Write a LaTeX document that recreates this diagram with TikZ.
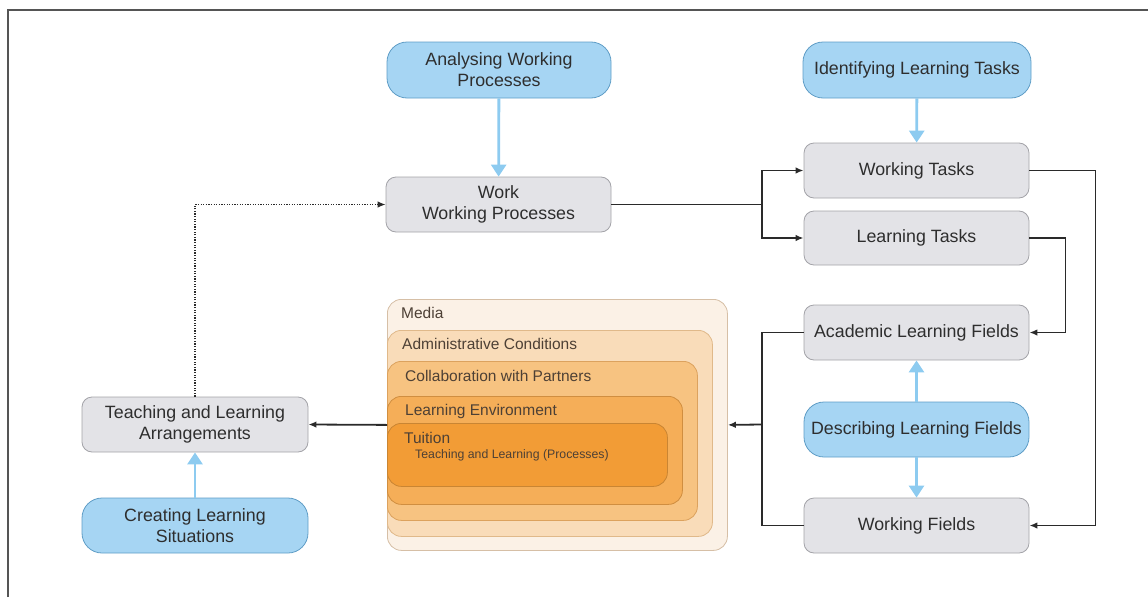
\documentclass[tikz,border=0pt]{standalone}
\usepackage{fontspec}
\setmainfont{Liberation Sans}
\usetikzlibrary{arrows.meta}
\definecolor{framec}{HTML}{555555}
\definecolor{txt}{HTML}{2E2E2E}
\definecolor{greyf}{HTML}{E3E3E7}
\definecolor{greyb}{HTML}{A3A3A8}
\definecolor{bluef}{HTML}{A6D5F3}
\definecolor{blueb}{HTML}{5F9DC6}
\definecolor{bluea}{HTML}{8DCBF0}
\definecolor{lined}{HTML}{2A2A2A}
\definecolor{mediaf}{HTML}{FBF1E6}
\definecolor{mediab}{HTML}{D6BFA6}
\definecolor{adminf}{HTML}{F9DCB9}
\definecolor{adminb}{HTML}{E0B98A}
\definecolor{collabf}{HTML}{F7C381}
\definecolor{collabb}{HTML}{DCA25E}
\definecolor{envf}{HTML}{F5AE58}
\definecolor{envb}{HTML}{D08E40}
\definecolor{tuitf}{HTML}{F29C36}
\definecolor{tuitb}{HTML}{C98533}
\definecolor{otxt}{HTML}{4D4035}
\newcommand{\fsmain}{\fontsize{17.8}{21}\selectfont}
\newcommand{\fsbox}{\fontsize{15.5}{18}\selectfont}
\newcommand{\fssmall}{\fontsize{12.3}{14}\selectfont}
\begin{document}
\begin{tikzpicture}[x=1pt,y=-1pt,
  greybox/.style={rounded corners=10pt, draw=greyb, fill=greyf, line width=0.8pt, text=txt,
    align=center, font=\fsmain, inner sep=0pt, minimum width=225pt, minimum height=55pt},
  bluebox/.style={greybox, rounded corners=20pt, draw=blueb, fill=bluef},
  layer/.style={rounded corners=14pt, line width=0.8pt, inner sep=0pt, anchor=north west},
  layertext/.style={anchor=base west, inner sep=0pt, text=otxt, font=\fsbox},
  darkline/.style={draw=lined, line width=1.8pt},
  darkarrow/.style={darkline, -{Latex[length=8pt,width=6.5pt]}},
  bluearrow/.style={draw=bluea, line width=2.8pt, -{Triangle[length=12pt,width=15pt]}}
]
\useasboundingbox (0,0) rectangle (1148,597);
\draw[framec, line width=1.5pt] (8,597) -- (8,10) -- (1148,10);

% top blue nodes
\node[bluebox, minimum width=224pt, minimum height=56pt] (ana) at (499,70) {Analysing Working\\Processes};
\node[bluebox, minimum width=228pt, minimum height=56pt] (ident) at (917,70) {Identifying Learning Tasks};

% grey nodes
\node[greybox] (work) at (498.5,204.5) {Work\\Working Processes};
\node[greybox] (wt) at (916.5,170.5) {Working Tasks};
\node[greybox, minimum height=54pt] (lt) at (916.5,238) {Learning Tasks};
\node[greybox] (alf) at (916.5,332.5) {Academic Learning Fields};
\node[bluebox] (dlf) at (916.5,429.5) {Describing Learning Fields};
\node[greybox] (wf) at (916.5,525.5) {Working Fields};
\node[greybox, minimum width=226pt] (tla) at (195,424.5) {Teaching and Learning\\Arrangements};
\node[bluebox, minimum width=226pt] (cls) at (195,525.5) {Creating Learning\\Situations};

% nested layers
\node[layer, draw=mediab, fill=mediaf, minimum width=340pt, minimum height=251pt] (media) at (387,299) {};
\node[layer, draw=adminb, fill=adminf, minimum width=325pt, minimum height=206pt] (admin) at (387,330) {};
\node[layer, draw=collabb, fill=collabf, minimum width=310pt, minimum height=159pt] (collab) at (387,361) {};
\node[layer, draw=envb, fill=envf, minimum width=295pt, minimum height=108pt] (env) at (387,396) {};
\node[layer, draw=tuitb, fill=tuitf, minimum width=280pt, minimum height=63pt] (tuit) at (387,423) {};
\node[layertext] (mediat) at (401,318) {Media};
\node[layertext] (admint) at (402,349) {Administrative Conditions};
\node[layertext] (collabt) at (405,381) {Collaboration with Partners};
\node[layertext] (envt) at (405,415) {Learning Environment};
\node[layertext] (tuitt) at (404,443) {Tuition};
\node[layertext, font=\fssmall] (tlpt) at (415,458) {Teaching and Learning (Processes)};

% blue arrows
\draw[bluearrow] (ana) -- (work);
\draw[bluearrow] (ident) -- (wt);
\draw[bluearrow] (cls) -- (tla);
\draw[bluearrow] (dlf) -- (alf);
\draw[bluearrow] (dlf) -- (wf);

% dark connectors
\coordinate (split) at (762,204.5);
\coordinate (lv) at (762,424.5);
\draw[darkline] (work.east) -- (split);
\draw[darkarrow] (split) |- (wt.west);
\draw[darkarrow] (split) |- (lt.west);
\draw[darkarrow] (wt.east) -- ++(66,0) |- (wf.east);
\draw[darkarrow] (lt.east) -- ++(36,0) |- (alf.east);
\draw[darkline] (alf.west) -- ++(-42,0) |- (wf.west);
\draw[darkarrow] (lv) -- (media.east);
\draw[darkarrow] (media.west) -- (tla.east);
\draw[darkline, line width=1.3pt, dash pattern=on 1.3pt off 1.3pt, -{Latex[length=8pt,width=6.5pt]}] (tla.north) |- (work.west);
\end{tikzpicture}
\end{document}
